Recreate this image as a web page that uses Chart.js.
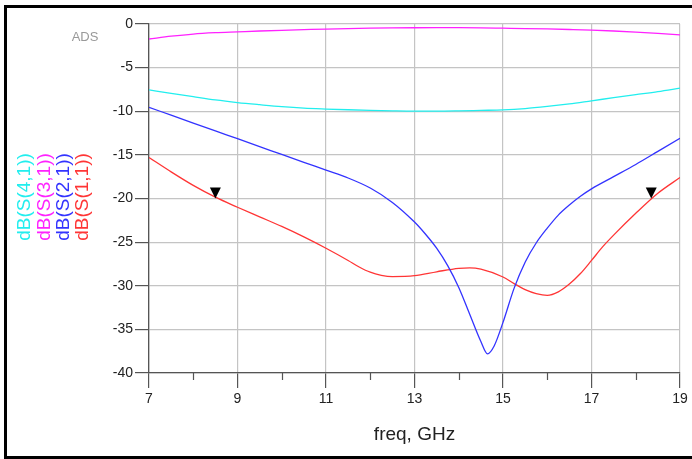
<!DOCTYPE html>
<html><head><meta charset="utf-8">
<script src="https://cdn.jsdelivr.net/npm/chart.js@4/dist/chart.umd.min.js"></script>
<style>html,body{margin:0;padding:0;background:#fff}#c{display:block}</style>
</head><body>
<canvas id="c" width="692" height="459"></canvas>
<script>
// ---- data ----
const freqS11 = [7,7.5,8,8.5,9,9.5,10,10.5,11,11.5,11.75,12,12.25,12.5,13,13.5,14,14.25,14.5,15,15.25,15.5,15.75,16,16.25,16.5,16.75,17,17.25,17.5,18,18.5,19];
const s11 = [-15.3,-16.95,-18.5,-19.85,-21.0,-22.1,-23.2,-24.4,-25.7,-27.1,-27.85,-28.45,-28.8,-28.95,-28.85,-28.4,-28.0,-27.95,-28.1,-29.0,-29.75,-30.45,-30.9,-31.1,-30.7,-29.8,-28.6,-27.1,-25.55,-24.2,-21.7,-19.4,-17.6];
const freqS21 = [7,7.5,8,8.5,9,9.5,10,10.5,11,11.5,12,12.5,13,13.25,13.5,13.75,14,14.25,14.5,14.65,14.8,15,15.25,15.5,15.75,16,16.25,16.5,16.75,17,17.5,18,18.5,19];
const s21 = [-9.55,-10.45,-11.35,-12.25,-13.15,-14.05,-14.95,-15.85,-16.75,-17.65,-18.8,-20.45,-22.7,-24.1,-25.7,-27.7,-30.2,-33.3,-36.4,-37.8,-36.9,-34.2,-30.3,-27.3,-25.1,-23.4,-21.9,-20.75,-19.75,-18.9,-17.5,-16.1,-14.6,-13.1];
const freqCoarse = [7,7.5,8,8.5,9,9.5,10,10.5,11,11.5,12,12.5,13,13.5,14,14.5,15,15.5,16,16.5,17,17.5,18,18.5,19];
const s31 = [-1.72,-1.4,-1.15,-1.0,-0.9,-0.8,-0.72,-0.65,-0.58,-0.52,-0.48,-0.45,-0.43,-0.42,-0.42,-0.44,-0.48,-0.52,-0.57,-0.63,-0.7,-0.8,-0.93,-1.08,-1.25];
const s41 = [-7.55,-7.95,-8.33,-8.7,-9.0,-9.25,-9.48,-9.65,-9.75,-9.83,-9.9,-9.95,-9.98,-9.98,-9.95,-9.9,-9.85,-9.7,-9.45,-9.15,-8.8,-8.45,-8.1,-7.75,-7.35];
const markerFreq = [8.5, 18.35];
const markerVal = [-20, -20];
const xTicks = [7,9,11,13,15,17,19];
const minorXTicks = [8,10,12,14,16,18];
const yTicks = [0,-5,-10,-15,-20,-25,-30,-35,-40];
const seriesLabels = ['dB(S(4,1))','dB(S(3,1))','dB(S(2,1))','dB(S(1,1))'];
const seriesColors = ['#22eeee','#ff22ff','#3333ff','#ff3535'];
const xTitle = 'freq, GHz';
const toolLabel = 'ADS';

const FONT = "'Liberation Sans', Arial, Helvetica, sans-serif";
const pts = (xs, ys) => xs.map((x,i)=>({x, y: ys[i]}));

const deco = {
  id: 'deco',
  beforeDraw(chart){
    const ctx = chart.ctx;
    ctx.save();
    ctx.fillStyle = '#fff';
    ctx.fillRect(0,0,chart.width,chart.height);
    ctx.restore();
  },
  afterDraw(chart){
    const ctx = chart.ctx, xs = chart.scales.x, ys = chart.scales.y;
    ctx.save();
    // minor x ticks
    ctx.strokeStyle = '#555'; ctx.lineWidth = 1.2;
    minorXTicks.forEach(v=>{
      const px = Math.round(xs.getPixelForValue(v))+0.5;
      ctx.beginPath(); ctx.moveTo(px, ys.bottom); ctx.lineTo(px, ys.bottom+7); ctx.stroke();
    });
    // markers (tip on the curve)
    ctx.fillStyle = '#000';
    markerFreq.forEach((f,i)=>{
      const px = xs.getPixelForValue(f), py = ys.getPixelForValue(markerVal[i]);
      ctx.beginPath(); ctx.moveTo(px, py); ctx.lineTo(px-5.5, py-11); ctx.lineTo(px+5.5, py-11); ctx.closePath(); ctx.fill();
    });
    // stacked coloured y-axis titles
    ctx.font = '19px ' + FONT;
    ctx.textAlign = 'center'; ctx.textBaseline = 'middle';
    seriesLabels.forEach((t,i)=>{
      ctx.save();
      ctx.translate(25 + i*19.3, 197);
      ctx.rotate(-Math.PI/2);
      ctx.fillStyle = seriesColors[i];
      ctx.fillText(t, 0, 0);
      ctx.restore();
    });
    // ADS label
    ctx.font = '13px ' + FONT;
    ctx.fillStyle = '#999';
    ctx.fillText(toolLabel, 85, 37);
    // outer frame
    ctx.fillStyle = '#000';
    ctx.fillRect(4, 5, 688, 3);
    ctx.fillRect(4, 5, 3, 454);
    ctx.fillRect(4, 456, 688, 3);
    ctx.restore();
  }
};

new Chart(document.getElementById('c'), {
  type: 'line',
  data: {
    datasets: [
      {label: seriesLabels[0], data: pts(freqCoarse, s41), borderColor: seriesColors[0]},
      {label: seriesLabels[1], data: pts(freqCoarse, s31), borderColor: seriesColors[1]},
      {label: seriesLabels[2], data: pts(freqS21, s21), borderColor: seriesColors[2]},
      {label: seriesLabels[3], data: pts(freqS11, s11), borderColor: seriesColors[3]}
    ]
  },
  options: {
    responsive: false,
    devicePixelRatio: 1,
    animation: false,
    events: [],
    layout: {padding: {top: 24, right: 12, left: 0, bottom: 0}},
    elements: {
      point: {radius: 0},
      line: {borderWidth: 1.3, cubicInterpolationMode: 'monotone', fill: false}
    },
    plugins: {legend: {display: false}, tooltip: {enabled: false}, title: {display: false}},
    scales: {
      x: {
        type: 'linear', min: 7, max: 19,
        afterFit: s => { s.height = 86; },
        afterBuildTicks: s => { s.ticks = xTicks.map(v=>({value: v})); },
        grid: {color: '#c4c4c4', lineWidth: 1.2, tickLength: 15, tickColor: '#555', tickWidth: 1.2},
        border: {color: '#555', width: 1.3},
        ticks: {color: '#222', font: {family: FONT, size: 14}, padding: 3, maxRotation: 0, autoSkip: false},
        title: {display: true, text: xTitle, color: '#222', font: {family: FONT, size: 19}, padding: {top: 0, bottom: 12.6}}
      },
      y: {
        type: 'linear', min: -40, max: 0,
        afterFit: s => { s.width = 149; },
        afterBuildTicks: s => { s.ticks = yTicks.map(v=>({value: v})); },
        grid: {color: '#c4c4c4', lineWidth: 1.2, tickLength: 14, tickColor: '#555', tickWidth: 1.2},
        border: {color: '#555', width: 1.3},
        ticks: {color: '#222', font: {family: FONT, size: 14}, padding: 2, autoSkip: false}
      }
    }
  },
  plugins: [deco]
});
</script>
</body></html>
